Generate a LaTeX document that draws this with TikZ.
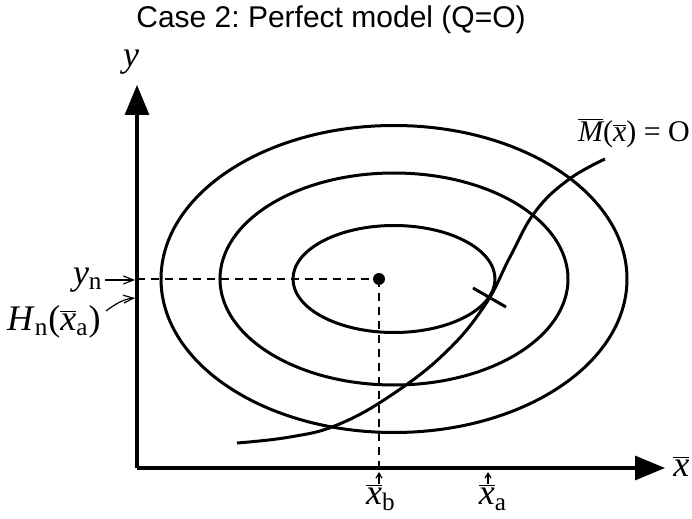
\documentclass[tikz,border=0pt]{standalone}
\usepackage{fontspec}
\setmainfont{Liberation Serif}
\newfontfamily\titlefont{Liberation Sans}
\usetikzlibrary{positioning, arrows.meta}
\frenchspacing

\newcommand{\xbar}{$\overline{\mbox{\itshape x}}$}
\newcommand{\Mbar}{$\overline{\mbox{\itshape M}}$}

\begin{document}
\begin{tikzpicture}[
    x=0.5pt, y=-0.5pt,
    axis/.style={
        line width=1.6pt,
        -{Triangle[length=15pt, width=12pt]}
    },
    contour/.style={
        line width=1.5pt
    },
    guide/.style={
        line width=0.75pt,
        dash pattern=on 4pt off 3pt
    },
    pointer/.style={
        line width=0.6pt,
        -{Straight Barb[length=5pt, width=4pt]}
    },
    tick/.style={
        line width=0.6pt,
        -{Straight Barb[length=2.5pt, width=3pt]}
    },
    lab/.style={
        inner sep=0pt,
        font=\fontsize{18}{20}\selectfont
    }
]
\useasboundingbox (0,0) rectangle (692,519);

% Title
\node[font=\titlefont\fontsize{15}{17}\selectfont] (title) at (331,20) {Case 2: Perfect model (Q=O)};

% Axes
\coordinate (origin) at (137,468);
\coordinate (ytip) at (137,85);
\coordinate (xtip) at (665,468);
\draw[axis] (origin) -- (ytip);
\draw[axis] (origin) -- (xtip);
\node[lab, above=5pt of ytip, xshift=-3pt] (ylab) {\textit{y}};
\node[lab, right=4pt of xtip, yshift=1pt] (xlab) {\xbar};

% Contours around the centre
\coordinate (ctr) at (394,279);
\draw[contour] (ctr) ellipse [x radius=101, y radius=53.5];
\draw[contour] (ctr) ellipse [x radius=174, y radius=106];
\draw[contour] (ctr) ellipse [x radius=233, y radius=153.5];

% Best point and its projections
\node[circle, fill, inner sep=0pt, minimum size=6pt] (best) at (379,279) {};
\draw[guide] (best -| origin) -- (best.center);
\draw[guide] (best.center) -- (best |- origin);

% Model curve
\draw[contour] plot[smooth, tension=0.7] coordinates {(237,443) (290,437) (337,425) (390,396) (445,353) (485,305) (510,257) (535,212) (568,180) (605,159)};
\coordinate (touch) at (489.5,297.5);
\draw[contour] ([shift={(-16.5,-9.5)}]touch) -- ([shift={(16.5,9.5)}]touch);
\node[lab, font=\fontsize{15}{17}\selectfont] (mlab) at (634,133) {\Mbar(\xbar) = O};

% Left labels
\node[lab, anchor=east] (yn) at (103,280) {\textit{y}\textsubscript{n}};
\coordinate (ynend) at (135,280);
\draw[pointer] ([xshift=1pt]yn.east) -- (ynend);
\node[lab, anchor=east] (hn) at (101,322) {\textit{H}\textsubscript{n}(\xbar\textsubscript{a})};
\coordinate (hnend) at (135,298);
\draw[pointer] ([shift={(5,-11)}]hn.east) .. controls (118,302) and (125,299) .. (hnend);

% Bottom labels
\node[lab, anchor=north] (xb) at (381,484) {\xbar\textsubscript{b}};
\coordinate (xbtick) at (379,472);
\draw[tick] (xbtick |- xb.north) -- (xbtick);
\node[lab, anchor=north] (xa) at (493,484) {\xbar\textsubscript{a}};
\coordinate (xatick) at (488,472);
\draw[tick] (xatick |- xa.north) -- (xatick);

\end{tikzpicture}
\end{document}
